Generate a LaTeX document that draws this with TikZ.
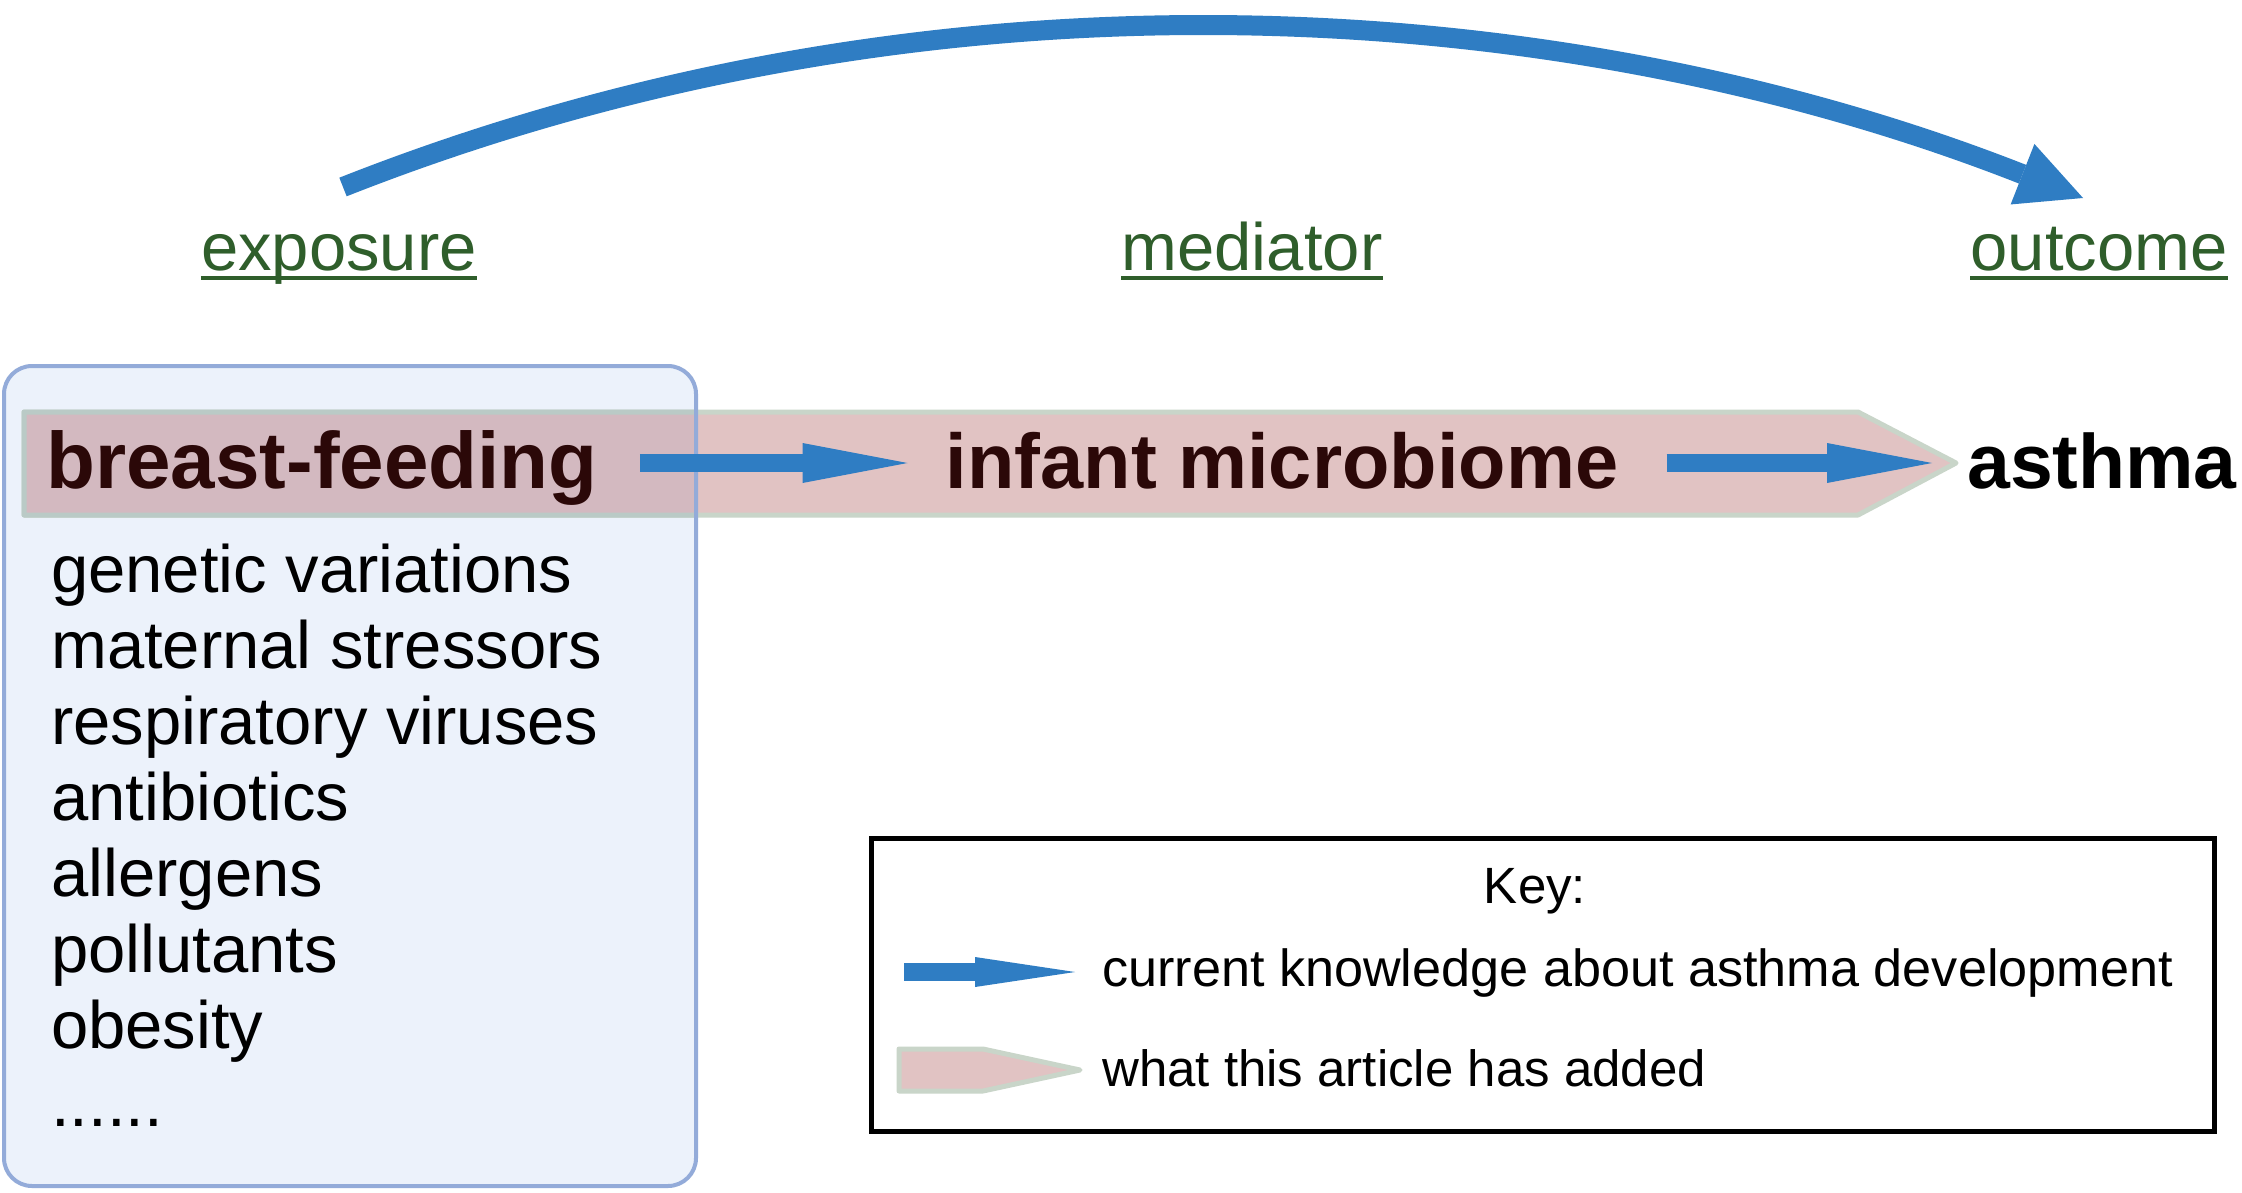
\documentclass[tikz,border=0pt]{standalone}
\usepackage{fontspec}
\setmainfont{Liberation Sans}
\usetikzlibrary{arrows.meta}
\definecolor{arrowblue}{HTML}{2F7DC3}
\definecolor{labelgreen}{HTML}{2F5E2B}
\definecolor{bandpink}{HTML}{E1C3C3}
\definecolor{bandedge}{HTML}{C9D5C9}
\definecolor{boxfill}{HTML}{ECF2FB}
\definecolor{boxedge}{HTML}{93ABD9}
\definecolor{overlapfill}{HTML}{D3B9C0}
\definecolor{overlapedge}{HTML}{BACAC6}
\definecolor{darkmaroon}{HTML}{2B0808}
\tikzset{
  bandtext/.style={text=darkmaroon, inner sep=0pt, text height=50pt, text depth=0pt, anchor=base},
  toplabel/.style={font=\fontsize{67}{80}\selectfont, text=labelgreen, inner sep=0pt, text depth=0pt, anchor=base},
  underl/.style={labelgreen, line width=4pt},
  listtext/.style={font=\fontsize{67}{76}\selectfont, text=black, inner sep=0pt, anchor=base west},
  keytext/.style={text=black, inner sep=0pt},
  flowarrow/.style={arrowblue, line width=18pt, -{Triangle[length=105pt,width=40pt,line width=0pt]}},
  bandshape/.style={line width=5pt, line join=round},
}
\begin{document}
\begin{tikzpicture}[x=1pt,y=-1pt]
\useasboundingbox[fill=white] (0,0) rectangle (2242,1193);

% blue box background
\path[fill=boxfill, rounded corners=28pt] (4,366) rectangle (696,1186);

% pink band
\draw[bandshape, fill=bandpink, draw=bandedge] (24,412) -- (1858,412) -- (1956,463) -- (1858,515) -- (24,515) -- cycle;
\begin{scope}
  \clip[rounded corners=28pt] (4,366) rectangle (696,1186);
  \draw[bandshape, fill=overlapfill, draw=overlapedge] (24,412) -- (1858,412) -- (1956,463) -- (1858,515) -- (24,515) -- cycle;
\end{scope}
\draw[boxedge, line width=4pt, rounded corners=28pt] (4,366) rectangle (696,1186);

% top labels
\node[toplabel] (expo) at (339,270) {exposure};
\node[toplabel] (medi) at (1252,270) {mediator};
\node[toplabel] (outc) at (2099,270) {outcome};
\foreach \n in {expo,medi,outc}
  \draw[underl] ([yshift=-8pt]\n.base west) -- ([yshift=-8pt]\n.base east);

% curved arrow exposure -> outcome
\coordinate (cstart) at (343,187);
\coordinate (ctip) at (2083,198);
\draw[arrowblue, line width=20pt, -{Triangle[length=65pt,width=65pt,line width=0pt]}]
  (cstart) .. controls (943,-50) and (1572,-3) .. (ctip);

% band texts
\node[bandtext, font=\fontsize{80}{96}\selectfont\bfseries, minimum width=543pt] (bf) at (322,488) {breast-feeding};
\node[bandtext, font=\fontsize{77.6}{96}\selectfont\bfseries, minimum width=669pt] (im) at (1282,488) {infant microbiome};
\node[bandtext, font=\fontsize{77}{96}\selectfont\bfseries, minimum width=267pt, text=black] (as) at (2102,488) {asthma};

\draw[flowarrow, shorten <=42pt, shorten >=38pt] (bf.east) -- (im.west);
\draw[flowarrow, shorten <=48pt, shorten >=35pt] (im.east) -- (as.west);

% list of factors
\foreach \t [count=\i] in {genetic variations, maternal stressors, respiratory viruses, antibiotics, allergens, pollutants, obesity}
  \node[listtext] (f\i) at (51,{592+76*(\i-1)}) {\t};
\node[listtext] (fdots) at (51,1126) {......};

% key
\node[draw=black, line width=5pt, inner sep=0pt, minimum width=1343pt, minimum height=293pt, anchor=north west] (keybox) at (869,836) {};
\node[keytext, font=\fontsize{51}{60}\selectfont, anchor=base] (keytitle) at (1535,903) {Key:};
\node[keytext, font=\fontsize{52.2}{60}\selectfont, anchor=base west] (k1) at (1102,986) {current knowledge about asthma development};
\node[keytext, font=\fontsize{51}{60}\selectfont, anchor=base west] (k2) at (1102,1086) {what this article has added};
\coordinate (lbs) at (904,972);
\coordinate (lbe) at (1075,972);
\draw[arrowblue, line width=18pt, -{Triangle[length=100pt,width=30pt,line width=0pt]}] (lbs) -- (lbe);
\draw[bandshape, fill=bandpink, draw=bandedge] (899,1049) -- (983,1049) -- (1080,1070) -- (983,1091) -- (899,1091) -- cycle;
\end{tikzpicture}
\end{document}
